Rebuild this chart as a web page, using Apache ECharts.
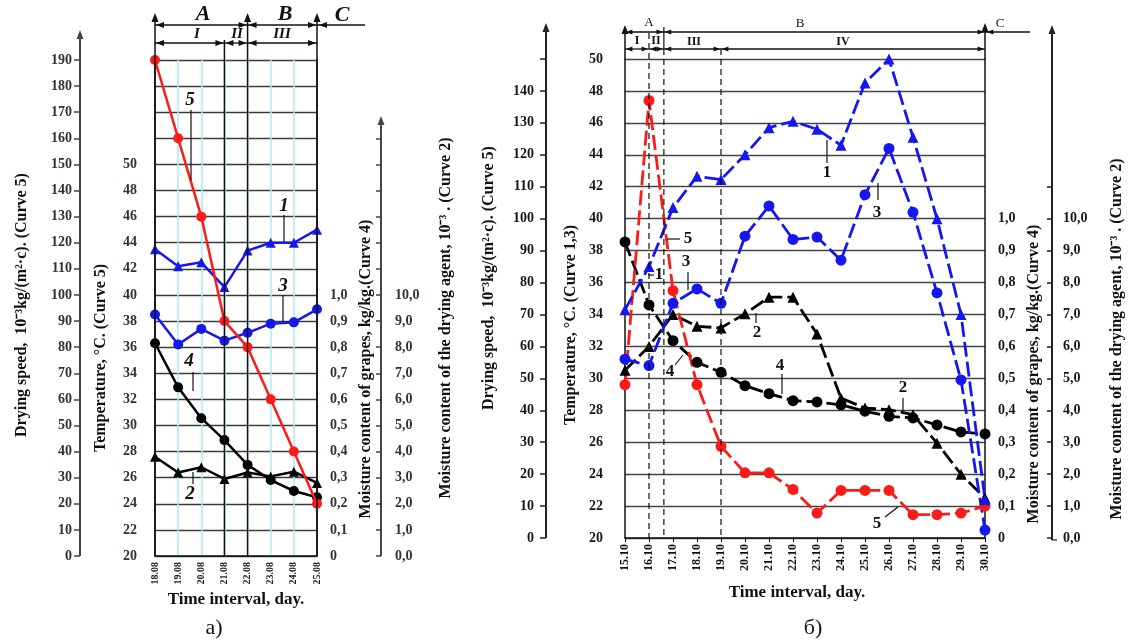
<!DOCTYPE html>
<html><head><meta charset="utf-8">
<script src="https://cdn.jsdelivr.net/npm/echarts@6/dist/echarts.min.js"></script>
<style>html,body{margin:0;padding:0;background:#fff}#c{width:1131px;height:643px}</style>
</head><body><div id="c"></div>
<script>
// ---------- DATA: panel a) ----------
const datesA = ['18.08','19.08','20.08','21.08','22.08','23.08','24.08','25.08'];
const speed5A = [190,160,130,90,80,60,40,20];                       // drying speed, curve 5
const temp1A  = [43.5,42.2,42.5,40.6,43.4,44.0,44.0,45.0];           // temperature, curve 1
const temp3A  = [38.5,36.2,37.4,36.5,37.1,37.8,37.9,38.9];           // temperature, curve 3
const grape4A = [0.815,0.646,0.528,0.444,0.349,0.291,0.249,0.225];   // moisture of grapes, curve 4
const agent2A = [3.8,3.2,3.4,2.95,3.2,3.05,3.23,2.8];                // moisture of agent, curve 2

// ---------- DATA: panel б) ----------
const datesB = ['15.10','16.10','17.10','18.10','19.10','20.10','21.10','22.10','23.10','24.10','25.10','26.10','27.10','28.10','29.10','30.10'];
const temp1B  = [34.3,37.0,40.7,42.65,42.45,44.0,45.7,46.1,45.6,44.6,48.5,50.0,45.1,40.0,34.0,22.4];
const temp3B  = [31.2,30.8,34.7,35.6,34.7,38.9,40.8,38.7,38.85,37.4,41.5,44.4,40.4,35.35,29.9,20.5];
const speed5B = [48,137,77.5,48,28.7,20.4,20.4,15.2,7.8,14.9,14.9,14.9,7.3,7.3,7.8,10];
const grape4B = [0.927,0.73,0.618,0.55,0.519,0.477,0.452,0.43,0.426,0.417,0.397,0.381,0.376,0.354,0.332,0.326];
const agent2B = [5.25,6.0,7.0,6.63,6.58,7.02,7.54,7.54,6.39,4.38,4.07,4.02,3.86,2.97,2.0,1.25];

// stage boundaries (x in day index)
const stagesA1 = [['A',0,4],['B',4,7]];
const stagesA2 = [['I',0,3],['II',3,4],['III',4,7]];
const stagesB1 = [['A',0,1.62],['B',1.62,15]];
const stagesB2 = [['I',0,1],['II',1,1.62],['III',1.62,4],['IV',4,15]];

// ---------- layout ----------
const F = 'Liberation Serif';
const GA = {left:155, top:60, width:162, height:496};
const GB = {left:625, top:59, width:360, height:479};
const OFF = {speedA:75, agentA:64, speedB:79, agentB:67};
const RED='#ff1a1a', BLUE='#1616f0', BLK='#000';
const comma = (v,d) => (+v).toFixed(d).replace('.', ',');
const pairs = arr => arr.map((v,i)=>[i,v]);

const chart = echarts.init(document.getElementById('c'));

function yAx(o){
  const base = {
    type:'value', splitLine:{show:false},
    axisLine:{show:false, onZero:false, lineStyle:{color:'#111', width:1.5}},
    axisTick:{show:false},
    axisLabel:{fontFamily:F, fontWeight:'bold', fontSize:14, color:'#2a2226'}
  };
  const r = Object.assign(base, o);
  r.axisLine = Object.assign({onZero:false}, r.axisLine);
  return r;
}
function ser(xi, yi, data, color, symbol, size, dash, lw, z){
  return {type:'line', xAxisIndex:xi, yAxisIndex:yi, data:pairs(data), symbol, symbolSize:size,
    showSymbol:true, lineStyle:{color, width:lw, type:dash}, itemStyle:{color, borderWidth:0},
    z:z||2, animation:false};
}
const DASH = [15,5];

chart.setOption({
  backgroundColor:'#fff',
  animation:false,
  grid:[Object.assign({},GA), Object.assign({},GB)],
  xAxis:[
    {gridIndex:0, type:'value', min:0, max:7, interval:1,
     axisLine:{onZero:false, lineStyle:{color:'#111', width:1.5}}, axisTick:{show:false},
     axisLabel:{rotate:90, margin:6, fontFamily:F, fontWeight:'bold', fontSize:10, color:'#222',
       formatter:v=>datesA[v]},
     splitLine:{show:true, lineStyle:{color:'#a8eef6', width:1.5}}},
    {gridIndex:1, type:'value', min:0, max:15, interval:1,
     axisLine:{onZero:false, lineStyle:{color:'#111', width:1.5}}, axisTick:{show:true, length:4, lineStyle:{color:'#111'}},
     axisLabel:{rotate:90, margin:6, fontFamily:F, fontWeight:'bold', fontSize:12, color:'#111',
       formatter:v=>datesB[v]},
     splitLine:{show:false}}
  ],
  yAxis:[
    // panel a
    yAx({gridIndex:0, position:'left', offset:OFF.speedA, min:0, max:190, interval:10,
      axisTick:{show:true, length:6, lineStyle:{color:'#444', width:1.5}},
      axisLabel:{margin:8, fontFamily:F, fontWeight:'bold', fontSize:14, color:'#3a2e36'},
      splitLine:{show:true, lineStyle:{color:'#3a3a3a', width:1.4}}}),
    yAx({gridIndex:0, position:'left', offset:0, min:20, max:58, interval:2,
      axisLine:{show:true, lineStyle:{color:'#111', width:1.5}},
      axisLabel:{margin:18, fontFamily:F, fontWeight:'bold', fontSize:14, color:'#3a2e36',
        formatter:v=> v<=50 ? String(v) : ''}}),
    yAx({gridIndex:0, position:'right', offset:0, min:0, max:1.9, interval:0.1,
      axisLine:{show:true, lineStyle:{color:'#111', width:1.5}},
      axisLabel:{margin:13, fontFamily:F, fontWeight:'bold', fontSize:14, color:'#3a2e36',
        formatter:v=> v>1.0001 ? '' : (v<0.001 ? '0' : comma(v,1))}}),
    yAx({gridIndex:0, position:'right', offset:OFF.agentA, min:0, max:19, interval:1,
      axisTick:{show:true, inside:true, length:5, lineStyle:{color:'#444', width:1.5},
        customValues:[0,1,2,3,4,5,6,7,8,9,10,11,12,13,14,15,16]},
      axisLabel:{margin:14, fontFamily:F, fontWeight:'bold', fontSize:14, color:'#3a2e36',
        formatter:v=> v>10.001 ? '' : comma(v,1)}}),
    // panel b
    yAx({gridIndex:1, position:'left', offset:OFF.speedB, min:0, max:150, interval:10,
      axisTick:{show:true, length:6, lineStyle:{color:'#222', width:1.5}},
      axisLabel:{margin:12, fontFamily:F, fontWeight:'bold', fontSize:14, color:'#1e1414',
        formatter:v=> v<=140 ? String(v) : ''}}),
    yAx({gridIndex:1, position:'left', offset:0, min:20, max:50, interval:2,
      axisLine:{show:true, lineStyle:{color:'#111', width:1.5}},
      axisLabel:{margin:22, fontFamily:F, fontWeight:'bold', fontSize:14, color:'#1e1414'},
      splitLine:{show:true, lineStyle:{color:'#444', width:1.3}}}),
    yAx({gridIndex:1, position:'right', offset:0, min:0, max:1.5, interval:0.1,
      axisLine:{show:true, lineStyle:{color:'#111', width:1.5}},
      axisLabel:{margin:13, fontFamily:F, fontWeight:'bold', fontSize:14, color:'#1e1414',
        formatter:v=> v>1.0001 ? '' : (v<0.001 ? '0' : comma(v,1))}}),
    yAx({gridIndex:1, position:'right', offset:OFF.agentB, min:0, max:15, interval:1,
      axisTick:{show:true, inside:true, length:5, lineStyle:{color:'#222', width:1.5},
        customValues:[0,1,2,3,4,5,6,7,8,9,10,11]},
      axisLabel:{margin:11, fontFamily:F, fontWeight:'bold', fontSize:14, color:'#1e1414',
        formatter:v=> v>10.001 ? '' : comma(v,1)}})
  ],
  series:[
    ser(0,3,agent2A,BLK,'triangle',10,'solid',2.5),
    ser(0,2,grape4A,BLK,'circle',10,'solid',2.5),
    ser(0,1,temp3A,BLUE,'circle',10,'solid',2.5),
    ser(0,1,temp1A,BLUE,'triangle',10,'solid',2.5),
    ser(0,0,speed5A,RED,'circle',10,'solid',2.5,3),
    ser(1,7,agent2B,BLK,'triangle',11,DASH,2.8),
    ser(1,6,grape4B,BLK,'circle',11,DASH,2.8),
    ser(1,4,speed5B,RED,'circle',11,DASH,2.8),
    ser(1,5,temp3B,BLUE,'circle',11,DASH,2.8),
    ser(1,5,temp1B,BLUE,'triangle',11,DASH,2.8)
  ]
});

// ---------- decorations ----------
const xa = v => chart.convertToPixel({xAxisIndex:0}, v);
const xb = v => chart.convertToPixel({xAxisIndex:1}, v);
const G = [];
function line(x1,y1,x2,y2,w,dash,col){ G.push({type:'line', z:5, shape:{x1,y1,x2,y2}, style:{stroke:col||'#111', lineWidth:w||1.3, lineDash:dash||[0]}}); }
function vbar(x,y1,y2,col){ G.push({type:'rect', z:50, zlevel:1, shape:{x:x-1,y:y1,width:2,height:y2-y1}, style:{fill:col||'#333'}}); }
function tri(pts,col,zl){ G.push({type:'polygon', z:5, zlevel:zl||0, shape:{points:pts}, style:{fill:col||'#111'}}); }
function up(x,y,s,col,zl){ s=s||1; tri([[x,y],[x-3.5*s,y+9*s],[x+3.5*s,y+9*s]],col,zl); }
function lft(x,y,s){ s=s||1; tri([[x,y],[x+8*s,y-3*s],[x+8*s,y+3*s]]); }
function rgt(x,y,s){ s=s||1; tri([[x,y],[x-8*s,y-3*s],[x-8*s,y+3*s]]); }
function dbl(x1,x2,y,s){ line(x1,y,x2,y,1.3); lft(x1+1,y,s); rgt(x2-1,y,s); }
function txt(x,y,t,font,rot,col){
  G.push({type:'text', z:6, x, y, rotation:rot||0,
    style:{text:t, font, fill:col||'#111', align:'center', verticalAlign:'middle', textAlign:'center', textVerticalAlign:'middle'}});
}
const bi = s => 'italic bold '+s+'px "'+F+'"';
const b  = s => 'bold '+s+'px "'+F+'"';
const n  = s => s+'px "'+F+'"';
const R = Math.PI/2;

// panel a verticals
const aTop = 13, aBot = GA.top+GA.height;
[0,4,7].forEach(v=>{ line(xa(v),aTop+4,xa(v),aBot,1.5); up(xa(v),aTop); });
line(xa(3),40,xa(3),aBot,1.5);
// panel a free axes (drawn as bars with arrows)
const spA = GA.left-OFF.speedA;
vbar(spA,36,aBot,'#444'); up(spA,30,1,'#444',1);
const agA = GA.left+GA.width+OFF.agentA;
vbar(agA,122,aBot,'#444'); up(agA,116,1,'#444',1);
// panel a stage arrows
stagesA1.forEach(s=>dbl(xa(s[1]),xa(s[2]),25));
stagesA2.forEach(s=>dbl(xa(s[1]),xa(s[2]),43));
line(xa(7),25,365,25,1.3); lft(xa(7)+2,25);
txt(203,14,'A',bi(22)); txt(285,14,'B',bi(22)); txt(342,15,'C',bi(22));
txt(197,34,'I',bi(15)); txt(237,34,'II',bi(15)); txt(282,34,'III',bi(15));
// panel a curve labels
txt(190,100,'5',bi(19)); line(191,110,191,180,1.2);
txt(284,206,'1',bi(19)); line(284,215,284,242,1.2);
txt(283,286,'3',bi(19)); line(283,295,283,322,1.2);
txt(189,361,'4',bi(19)); line(193,372,193,391,1.2);
txt(190,494,'2',bi(19)); line(193,484,193,472,1.2);
// panel a titles
txt(22,305,'Drying speed,  10\u207B\u00B3kg/(m\u00B2\u00B7c). (Curve 5)',b(16),R);
txt(101,358,'Temperature, \u00B0C. (Curve 5)',b(16),R);
txt(366,369,'Moisture content of grapes, kg/kg.(Curve 4)',b(16),R);
txt(446,318,'Moisture content of the drying agent, 10\u207B\u00B3 . (Curve 2)',b(16),R);
txt(236,600,'Time interval, day.',b(17));
txt(214,628,'a)',n(22));

// panel b verticals
const bBot = GB.top+GB.height;
line(xb(0),30,xb(0),GB.top,1.5); up(xb(0),25);
line(xb(15),28,xb(15),GB.top,1.5); up(xb(15),23);
line(xb(1),33,xb(1),bBot,1.2,[6,4]);
line(xb(1.62),27,xb(1.62),49,1.2); line(xb(1.62),49,xb(1.62),bBot,1.2,[6,4]);
line(xb(4),49,xb(4),bBot,1.2,[6,4]);
// panel b free axes
const spB = GB.left-OFF.speedB;
vbar(spB,29,bBot,'#222'); up(spB,23,1,'#222',1);
const agB = GB.left+GB.width+OFF.agentB;
vbar(agB,31,bBot+2,'#222'); up(agB,25,1,'#222',1);
line(agB,bBot+2,agB+5,bBot+2,1.2,null,'#222');
// panel b stage arrows
stagesB1.forEach(s=>dbl(xb(s[1]),xb(s[2]),32,0.8));
stagesB2.forEach(s=>dbl(xb(s[1]),xb(s[2]),49,0.8));
line(xb(15),32,1030,32,1.3); lft(xb(15)+2,32,0.8);
txt(649,23,'A',n(13)); txt(800,24,'B',n(13)); txt(1000,24,'C',n(13));
txt(637,41,'I',b(12)); txt(656,41,'II',b(12)); txt(694,42,'III',b(12)); txt(843,42,'IV',b(12));
// panel b curve labels
txt(827,173,'1',b(17)); line(827,140,827,163,1.2);
txt(877,213,'3',b(17)); line(878,183,878,200,1.2);
txt(688,239,'5',b(17)); line(667,239,680,239,1.2);
txt(659,275,'1',b(17)); line(648,275,654,275,1.2);
txt(686,262,'3',b(17)); line(688,272,688,290,1.2);
txt(670,372,'4',b(17)); line(675,365,683,355,1.2);
txt(757,333,'2',b(17)); line(756,313,756,323,1.2);
txt(780,366,'4',b(17)); line(782,374,782,394,1.2);
txt(903,388,'2',b(17)); line(903,398,903,411,1.2);
txt(877,524,'5',b(17)); line(885,517,898,507,1.2);
// panel b titles
txt(489,278,'Drying speed,  10\u207B\u00B3kg/(m\u00B2\u00B7c). (Curve 5)',b(16),R);
txt(571,325,'Temperature, \u00B0C. (Curve 1,3)',b(16),R);
txt(1034,374,'Moisture content of grapes, kg/kg.(Curve 4)',b(16),R);
txt(1117,339,'Moisture content of the drying agent, 10\u207B\u00B3 . (Curve 2)',b(16),R);
txt(797,593,'Time interval, day.',b(17));
txt(813,628,'\u0431)',n(22));

chart.setOption({graphic:{elements:G}});
</script></body></html>
